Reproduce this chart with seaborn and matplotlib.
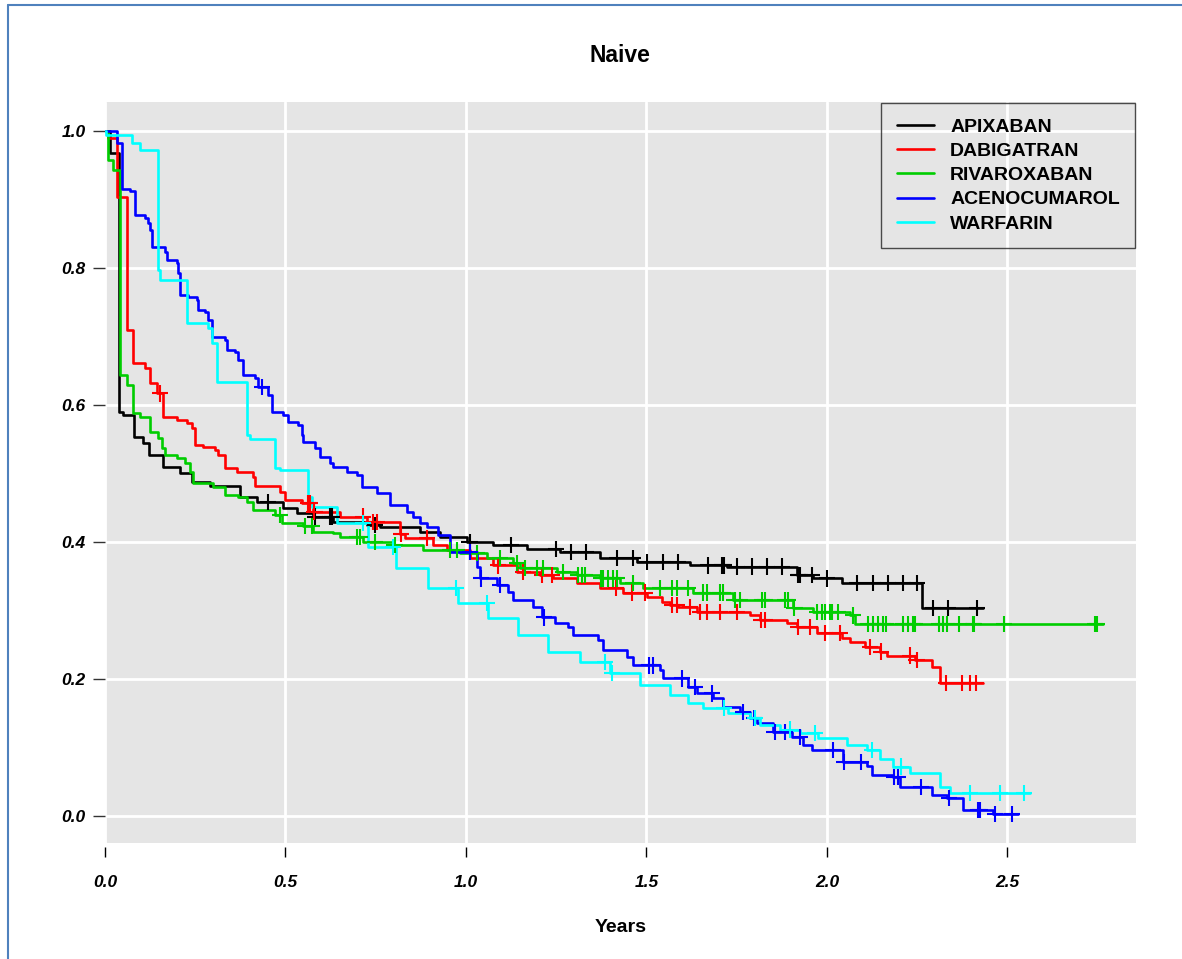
import numpy as np
import pandas as pd
import seaborn as sns
import matplotlib.pyplot as plt
from matplotlib.lines import Line2D

# ------------------------------------------------------------
# Kaplan-Meier curves (event time, survival after it)
# ------------------------------------------------------------
drugs = ["APIXABAN", "DABIGATRAN", "RIVAROXABAN", "ACENOCUMAROL", "WARFARIN"]
colors = ["#000000", "#FF0000", "#00CD00", "#0000FF", "#00FFFF"]

apix_t = [0.014, 0.039, 0.050, 0.080, 0.105, 0.122, 0.161, 0.208, 0.241, 0.291,
          0.374, 0.421, 0.493, 0.532, 0.576, 0.632, 0.726, 0.762, 0.873, 0.928,
          1.003, 1.075, 1.169, 1.260, 1.371, 1.474, 1.620, 1.723, 1.917, 1.961,
          2.042, 2.263]
apix_s = [0.968, 0.590, 0.585, 0.553, 0.545, 0.527, 0.510, 0.500, 0.488, 0.482,
          0.466, 0.458, 0.450, 0.442, 0.437, 0.429, 0.425, 0.422, 0.415, 0.407,
          0.400, 0.396, 0.390, 0.385, 0.377, 0.371, 0.366, 0.364, 0.352, 0.347,
          0.340, 0.304]
apix_end = 2.432
apix_cens = [0.452, 0.582, 0.623, 0.629, 0.748, 1.010, 1.125, 1.249, 1.291, 1.332,
             1.418, 1.463, 1.501, 1.546, 1.587, 1.670, 1.709, 1.715, 1.751, 1.792,
             1.834, 1.875, 1.920, 1.924, 1.958, 2.000, 2.083, 2.127, 2.169, 2.211,
             2.249, 2.294, 2.335, 2.416]

dabi_t = [0.008, 0.033, 0.061, 0.078, 0.111, 0.125, 0.144, 0.161, 0.199, 0.227,
          0.241, 0.249, 0.271, 0.305, 0.313, 0.332, 0.366, 0.410, 0.416, 0.485,
          0.499, 0.546, 0.576, 0.651, 0.726, 0.817, 0.830, 0.909, 0.947, 1.011,
          1.075, 1.141, 1.205, 1.241, 1.307, 1.371, 1.435, 1.501, 1.543, 1.565,
          1.587, 1.640, 1.787, 1.814, 1.889, 1.917, 1.972, 2.042, 2.064, 2.105,
          2.147, 2.166, 2.244, 2.291, 2.313]
dabi_s = [0.990, 0.904, 0.709, 0.661, 0.654, 0.632, 0.617, 0.583, 0.578, 0.574,
          0.566, 0.542, 0.539, 0.534, 0.527, 0.508, 0.502, 0.495, 0.482, 0.473,
          0.461, 0.457, 0.444, 0.437, 0.429, 0.412, 0.406, 0.396, 0.388, 0.377,
          0.366, 0.356, 0.352, 0.347, 0.340, 0.333, 0.326, 0.320, 0.312, 0.308,
          0.305, 0.298, 0.293, 0.286, 0.282, 0.276, 0.267, 0.260, 0.254, 0.247,
          0.240, 0.234, 0.228, 0.218, 0.194]
dabi_end = 2.432
dabi_cens = [0.152, 0.562, 0.568, 0.580, 0.715, 0.742, 0.753, 0.820, 0.892, 1.089,
             1.158, 1.210, 1.238, 1.416, 1.460, 1.496, 1.570, 1.584, 1.620, 1.648,
             1.668, 1.704, 1.751, 1.818, 1.828, 1.920, 1.953, 1.994, 2.036, 2.119,
             2.150, 2.230, 2.248, 2.330, 2.374, 2.396, 2.413]

riva_t = [0.008, 0.022, 0.041, 0.061, 0.078, 0.097, 0.125, 0.147, 0.158, 0.166,
          0.199, 0.222, 0.235, 0.244, 0.299, 0.332, 0.368, 0.393, 0.410, 0.471,
          0.490, 0.548, 0.576, 0.632, 0.651, 0.715, 0.798, 0.881, 0.983, 1.058,
          1.130, 1.150, 1.252, 1.307, 1.371, 1.427, 1.490, 1.629, 1.740, 1.906,
          1.961, 2.064, 2.078]
riva_s = [0.958, 0.943, 0.644, 0.629, 0.588, 0.583, 0.561, 0.552, 0.537, 0.527,
          0.523, 0.515, 0.502, 0.486, 0.480, 0.469, 0.466, 0.458, 0.447, 0.439,
          0.428, 0.423, 0.415, 0.413, 0.407, 0.400, 0.396, 0.388, 0.384, 0.377,
          0.369, 0.362, 0.356, 0.352, 0.347, 0.340, 0.333, 0.326, 0.315, 0.304,
          0.298, 0.293, 0.280]
riva_end = 2.765
riva_cens = [0.485, 0.554, 0.573, 0.698, 0.706, 0.748, 0.802, 0.956, 0.975, 1.030,
             1.094, 1.141, 1.163, 1.197, 1.213, 1.269, 1.310, 1.321, 1.330, 1.375,
             1.380, 1.393, 1.407, 1.418, 1.463, 1.537, 1.571, 1.584, 1.615, 1.657,
             1.668, 1.704, 1.712, 1.744, 1.759, 1.820, 1.828, 1.884, 1.892, 1.910,
             1.972, 1.986, 1.994, 2.008, 2.014, 2.030, 2.072, 2.114, 2.127, 2.141,
             2.155, 2.163, 2.211, 2.224, 2.238, 2.244, 2.310, 2.321, 2.332, 2.366,
             2.404, 2.407, 2.490, 2.742, 2.748]

aceno_t = [0.033, 0.047, 0.069, 0.083, 0.111, 0.119, 0.125, 0.130, 0.166, 0.172,
           0.199, 0.202, 0.208, 0.230, 0.255, 0.258, 0.277, 0.285, 0.296, 0.332,
           0.338, 0.360, 0.368, 0.382, 0.416, 0.424, 0.452, 0.463, 0.493, 0.507,
           0.535, 0.546, 0.548, 0.582, 0.596, 0.623, 0.632, 0.670, 0.698, 0.712,
           0.753, 0.789, 0.837, 0.853, 0.873, 0.892, 0.922, 0.956, 1.030, 1.039,
           1.086, 1.116, 1.130, 1.186, 1.211, 1.247, 1.283, 1.296, 1.366, 1.380,
           1.446, 1.463, 1.537, 1.546, 1.615, 1.640, 1.684, 1.712, 1.759, 1.787,
           1.806, 1.850, 1.903, 1.934, 1.958, 2.044, 2.111, 2.125, 2.183, 2.202,
           2.291, 2.332, 2.377, 2.460]
aceno_s = [0.982, 0.915, 0.912, 0.877, 0.873, 0.866, 0.855, 0.830, 0.823, 0.812,
           0.807, 0.792, 0.760, 0.758, 0.753, 0.739, 0.736, 0.724, 0.699, 0.695,
           0.680, 0.677, 0.666, 0.644, 0.639, 0.626, 0.615, 0.590, 0.585, 0.575,
           0.571, 0.556, 0.546, 0.537, 0.524, 0.515, 0.510, 0.502, 0.498, 0.480,
           0.471, 0.454, 0.444, 0.437, 0.428, 0.422, 0.410, 0.385, 0.364, 0.347,
           0.337, 0.327, 0.315, 0.305, 0.290, 0.282, 0.276, 0.264, 0.257, 0.242,
           0.232, 0.220, 0.213, 0.201, 0.188, 0.179, 0.172, 0.159, 0.152, 0.143,
           0.136, 0.123, 0.115, 0.104, 0.096, 0.079, 0.073, 0.060, 0.057, 0.042,
           0.031, 0.026, 0.009, 0.003]
aceno_end = 2.529
aceno_cens = [0.435, 1.011, 1.042, 1.094, 1.216, 1.507, 1.518, 1.598, 1.634, 1.681,
              1.767, 1.798, 1.855, 1.884, 1.925, 2.017, 2.048, 2.094, 2.186, 2.197,
              2.260, 2.338, 2.418, 2.424, 2.465, 2.512]

warf_t = [0.003, 0.075, 0.097, 0.147, 0.152, 0.227, 0.285, 0.296, 0.310, 0.393,
          0.402, 0.471, 0.485, 0.562, 0.573, 0.643, 0.729, 0.806, 0.895, 0.978,
          1.061, 1.144, 1.227, 1.316, 1.399, 1.482, 1.565, 1.615, 1.657, 1.726,
          1.787, 1.814, 1.870, 1.925, 1.975, 2.055, 2.111, 2.147, 2.183, 2.230,
          2.313, 2.341]
warf_s = [0.994, 0.982, 0.972, 0.797, 0.782, 0.720, 0.712, 0.690, 0.633, 0.556,
          0.550, 0.508, 0.505, 0.466, 0.451, 0.428, 0.393, 0.362, 0.333, 0.311,
          0.289, 0.264, 0.239, 0.225, 0.209, 0.191, 0.177, 0.165, 0.158, 0.150,
          0.143, 0.133, 0.126, 0.121, 0.114, 0.104, 0.096, 0.083, 0.072, 0.063,
          0.042, 0.034]
warf_end = 2.562
warf_cens = [0.715, 0.798, 0.972, 1.058, 1.385, 1.404, 1.715, 1.801, 1.898, 1.967,
             2.125, 2.205, 2.396, 2.479, 2.546]

curves = {
    "APIXABAN": (apix_t, apix_s, apix_end, apix_cens),
    "DABIGATRAN": (dabi_t, dabi_s, dabi_end, dabi_cens),
    "RIVAROXABAN": (riva_t, riva_s, riva_end, riva_cens),
    "ACENOCUMAROL": (aceno_t, aceno_s, aceno_end, aceno_cens),
    "WARFARIN": (warf_t, warf_s, warf_end, warf_cens),
}

x_ticks = [0.0, 0.5, 1.0, 1.5, 2.0, 2.5]
y_ticks = [0.0, 0.2, 0.4, 0.6, 0.8, 1.0]

# ------------------------------------------------------------
# long-form tables for seaborn
# ------------------------------------------------------------
step_rows, cens_rows = [], []
for drug, (t, s, end, cens) in curves.items():
    times = np.array([0.0] + t + [end])
    survs = np.array([1.0] + s + [s[-1]])
    for a, b in zip(times, survs):
        step_rows.append((drug, a, b))
    for c in cens:
        idx = np.searchsorted(times, c, side="right") - 1
        cens_rows.append((drug, c, survs[idx]))

df_step = pd.DataFrame(step_rows, columns=["drug", "time", "surv"])
df_cens = pd.DataFrame(cens_rows, columns=["drug", "time", "surv"])
palette = dict(zip(drugs, colors))

# ------------------------------------------------------------
# plot
# ------------------------------------------------------------
sns.set_theme(style="darkgrid", rc={"axes.facecolor": "#E5E5E5",
                                    "grid.color": "white",
                                    "grid.linewidth": 2.0,
                                    "text.color": "black",
                                    "axes.labelcolor": "black",
                                    "xtick.color": "black",
                                    "ytick.color": "black"})
plt.rcParams["font.family"] = ["Liberation Sans", "DejaVu Sans"]

fig = plt.figure(figsize=(11.82, 9.59), dpi=100)
ax = fig.add_axes([105 / 1182, 1 - 843 / 959, 1031 / 1182, 741 / 959])

sns.lineplot(data=df_step, x="time", y="surv", hue="drug", hue_order=drugs,
             palette=palette, estimator=None, drawstyle="steps-post",
             linewidth=1.9, legend=False, ax=ax)
sns.scatterplot(data=df_cens, x="time", y="surv", hue="drug", hue_order=drugs,
                palette=palette, marker="+", s=140, linewidth=1.5,
                legend=False, ax=ax, zorder=3)

# axis frame: no spines, x ticks pushed a little below the panel
for sp in ax.spines.values():
    sp.set_visible(False)
ax.spines["bottom"].set_position(("outward", 3))

ax.set_xlim(0, 2.856)
ax.set_ylim(-0.0394, 1.0423)
ax.set_xticks(x_ticks)
ax.set_yticks(y_ticks)
ax.set_xticklabels([f"{v:.1f}" for v in x_ticks], fontweight="bold",
                   fontstyle="italic", fontsize=12.5)
ax.set_yticklabels([f"{v:.1f}" for v in y_ticks], fontweight="bold",
                   fontstyle="italic", fontsize=12.5)
ax.tick_params(axis="x", bottom=True, length=7, width=1, color="black", pad=13)
ax.tick_params(axis="y", left=True, length=9, width=1, color="#333333", pad=5)

ax.set_ylabel("")
ax.set_xlabel("Years", fontweight="bold", fontsize=14)
ax.xaxis.label.set_va("center")
ax.xaxis.set_label_coords(0.5, (843 - 928) / 741)

fig.text(620 / 1182, 1 - 56 / 959, "Naive", ha="center", va="center",
         fontweight="bold", fontsize=16.5)

handles = [Line2D([0], [0], color=c, lw=1.9) for c in colors]
leg = ax.legend(handles, drugs, loc="upper right", bbox_to_anchor=(1, 1),
                borderaxespad=0.05, frameon=True, fancybox=False,
                prop={"weight": "bold", "size": 14}, handlelength=1.9,
                handletextpad=0.85, labelspacing=0.34, borderpad=0.78)
frame = leg.get_frame()
frame.set_facecolor("none")
frame.set_edgecolor("#222222")
frame.set_linewidth(1.0)

# screenshot frame on the left and top
fig.add_artist(Line2D([8 / 1182, 8 / 1182], [0, 1 - 5 / 959], color="#4F81BD",
                      lw=1.5, transform=fig.transFigure))
fig.add_artist(Line2D([8 / 1182, 1], [1 - 5 / 959, 1 - 5 / 959], color="#4F81BD",
                      lw=1.5, transform=fig.transFigure))

fig.savefig("out.png", dpi=100, facecolor="white")
